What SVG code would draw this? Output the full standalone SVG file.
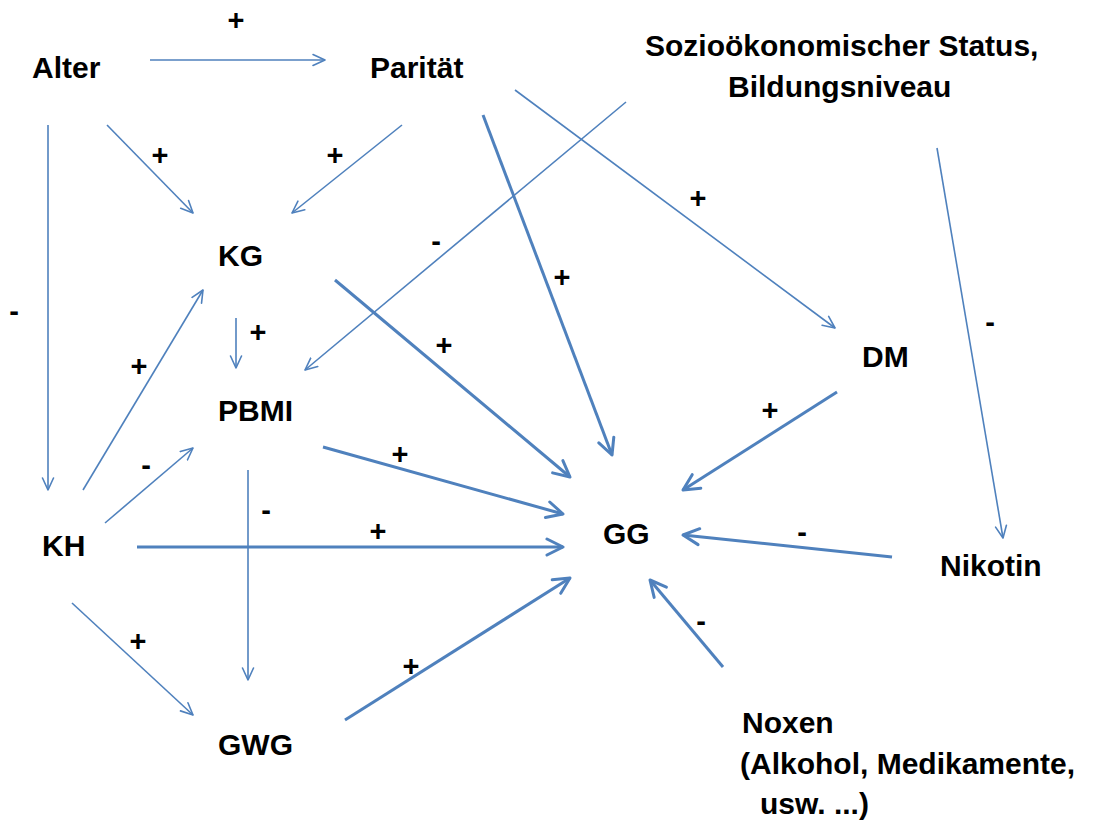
<svg xmlns="http://www.w3.org/2000/svg" width="1099" height="821" viewBox="0 0 1099 821">
  <style>
    .lbl { font-family: "Liberation Sans", Arial, sans-serif; font-weight: bold; font-size: 30px; fill: #000; }
    .sgn { font-family: "Liberation Sans", Arial, sans-serif; font-weight: bold; font-size: 29px; fill: #000; text-anchor: middle; }
    .thin { stroke: #4F81BD; stroke-width: 1.6; fill: none; marker-end: url(#headThin); }
    .thick { stroke: #4F81BD; stroke-width: 3; fill: none; marker-end: url(#headThick); }
  </style>
  <defs>
    <marker id="headThin" viewBox="0 0 14 14" refX="13" refY="7" markerWidth="14" markerHeight="14" markerUnits="userSpaceOnUse" orient="auto">
      <path d="M1,1.5 L13,7 L1,12.5" fill="none" stroke="#4F81BD" stroke-width="1.6" stroke-linecap="round" stroke-linejoin="round"/>
    </marker>
    <marker id="headThick" viewBox="0 0 20 20" refX="18" refY="10" markerWidth="20" markerHeight="20" markerUnits="userSpaceOnUse" orient="auto">
      <path d="M2,2 L18,10 L2,18" fill="none" stroke="#4F81BD" stroke-width="3" stroke-linecap="round" stroke-linejoin="round"/>
    </marker>
  </defs>
  <rect width="1099" height="821" fill="#fff"/>

  <g id="connectors">
    <line class="thin" x1="150" y1="60" x2="325" y2="60"/>
    <line class="thin" x1="48" y1="125" x2="48" y2="490"/>
    <line class="thin" x1="107" y1="125" x2="193" y2="213"/>
    <line class="thin" x1="402" y1="125" x2="292" y2="213"/>
    <line class="thick" x1="483" y1="115" x2="612" y2="455"/>
    <line class="thin" x1="515" y1="90" x2="835" y2="328"/>
    <line class="thin" x1="626" y1="102" x2="305" y2="370"/>
    <line class="thin" x1="937" y1="148" x2="1003" y2="538"/>
    <line class="thick" x1="335" y1="280" x2="570" y2="477"/>
    <line class="thin" x1="236" y1="318" x2="236" y2="368"/>
    <line class="thin" x1="83" y1="490" x2="203" y2="290"/>
    <line class="thin" x1="105" y1="523" x2="193" y2="448"/>
    <line class="thick" x1="323" y1="447" x2="563" y2="514"/>
    <line class="thin" x1="248" y1="470" x2="248" y2="680"/>
    <line class="thick" x1="137" y1="547" x2="563" y2="547"/>
    <line class="thin" x1="72" y1="603" x2="193" y2="715"/>
    <line class="thick" x1="345" y1="720" x2="570" y2="578"/>
    <line class="thick" x1="837" y1="392" x2="683" y2="490"/>
    <line class="thick" x1="892" y1="557" x2="683" y2="535"/>
    <line class="thick" x1="723" y1="667" x2="650" y2="580"/>

    <!-- effect signs -->
    <text class="sgn" x="236" y="30">+</text>
    <text class="sgn" x="14" y="321">-</text>
    <text class="sgn" x="160" y="165">+</text>
    <text class="sgn" x="335" y="165">+</text>
    <text class="sgn" x="562" y="287">+</text>
    <text class="sgn" x="698" y="208">+</text>
    <text class="sgn" x="436" y="251">-</text>
    <text class="sgn" x="990" y="332">-</text>
    <text class="sgn" x="444" y="355">+</text>
    <text class="sgn" x="258" y="342">+</text>
    <text class="sgn" x="139" y="376">+</text>
    <text class="sgn" x="146" y="475">-</text>
    <text class="sgn" x="400" y="464">+</text>
    <text class="sgn" x="266" y="520">-</text>
    <text class="sgn" x="378" y="541">+</text>
    <text class="sgn" x="138" y="651">+</text>
    <text class="sgn" x="411" y="676">+</text>
    <text class="sgn" x="770" y="420">+</text>
    <text class="sgn" x="802" y="542">-</text>
    <text class="sgn" x="701" y="631">-</text>
  </g>

  <g id="alter"><text class="lbl" x="32" y="78">Alter</text></g>
  <g id="paritaet"><text class="lbl" x="370" y="78">Parität</text></g>
  <g id="ses">
    <text class="lbl" x="645" y="56">Sozioökonomischer Status,</text>
    <text class="lbl" x="728" y="97">Bildungsniveau</text>
  </g>
  <g id="kg"><text class="lbl" x="218" y="266">KG</text></g>
  <g id="pbmi"><text class="lbl" x="218" y="421">PBMI</text></g>
  <g id="kh"><text class="lbl" x="42" y="556">KH</text></g>
  <g id="gwg"><text class="lbl" x="218" y="755">GWG</text></g>
  <g id="gg"><text class="lbl" x="603" y="544">GG</text></g>
  <g id="dm"><text class="lbl" x="862" y="367">DM</text></g>
  <g id="nikotin"><text class="lbl" x="940" y="576">Nikotin</text></g>
  <g id="noxen">
    <text class="lbl" x="742" y="733">Noxen</text>
    <text class="lbl" x="740" y="774">(Alkohol, Medikamente,</text>
    <text class="lbl" x="760" y="814">usw. ...)</text>
  </g>
</svg>
